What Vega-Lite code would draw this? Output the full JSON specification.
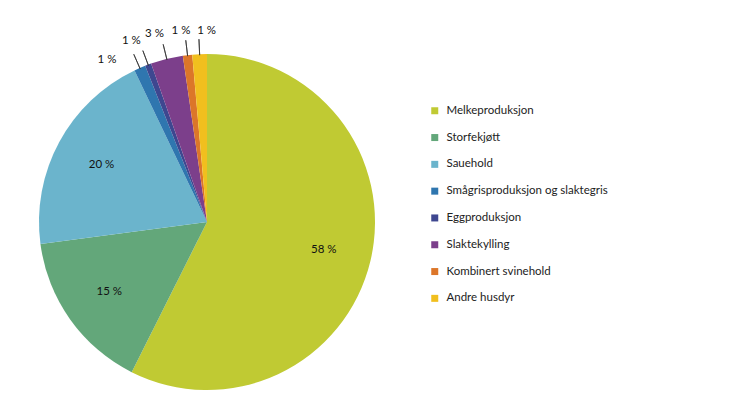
{
  "$schema": "https://vega.github.io/schema/vega-lite/v6.json",
  "width": 414,
  "height": 386,
  "autosize": {"type": "none"},
  "padding": {"left": 0, "top": 29, "right": 316, "bottom": 0},
  "background": "white",
  "data": {
    "values": [
      {"kategori": "Melkeproduksjon", "andel": 57.4, "etikett": "58 %"},
      {"kategori": "Storfekjøtt", "andel": 15.5, "etikett": "15 %"},
      {"kategori": "Sauehold", "andel": 20.0, "etikett": "20 %"},
      {"kategori": "Smågrisproduksjon og slaktegris", "andel": 1.1, "etikett": "1 %"},
      {"kategori": "Eggproduksjon", "andel": 0.6, "etikett": "1 %"},
      {"kategori": "Slaktekylling", "andel": 3.1, "etikett": "3 %"},
      {"kategori": "Kombinert svinehold", "andel": 0.9, "etikett": "1 %"},
      {"kategori": "Andre husdyr", "andel": 1.4, "etikett": "1 %"}
    ]
  },
  "transform": [
    {"window": [{"op": "row_number", "as": "rekke"}]},
    {"stack": "andel", "groupby": [], "sort": [{"field": "rekke", "order": "ascending"}], "as": ["start", "slutt"]},
    {"calculate": "(datum.start + datum.slutt) / 2", "as": "midt"}
  ],
  "resolve": {"scale": {"theta": "shared"}},
  "layer": [
    {
      "mark": {"type": "arc", "outerRadius": 168},
      "encoding": {
        "theta": {"field": "start", "type": "quantitative", "scale": {"domain": [0, 100]}, "stack": null},
        "theta2": {"field": "slutt"},
        "color": {
          "field": "kategori",
          "type": "nominal",
          "scale": {
            "domain": ["Melkeproduksjon", "Storfekjøtt", "Sauehold", "Smågrisproduksjon og slaktegris", "Eggproduksjon", "Slaktekylling", "Kombinert svinehold", "Andre husdyr"],
            "range": ["#c0ca33", "#63a77a", "#6bb4cc", "#2f76af", "#3e4790", "#7c3f8b", "#dc7629", "#f1bf1e"]
          },
          "legend": {
            "title": null,
            "orient": "none",
            "legendX": 429,
            "legendY": 76,
            "symbolType": "square",
            "symbolSize": 49,
            "symbolStrokeWidth": 0,
            "labelFont": "Lato",
            "labelFontSize": 11.5,
            "labelColor": "#222222",
            "labelOffset": 6,
            "labelLimit": 300,
            "rowPadding": 13.8,
            "padding": 0
          }
        }
      }
    },
    {
      "transform": [{"filter": "datum.andel < 10"}],
      "mark": {"type": "arc", "radius": 167, "radius2": 183, "fill": null, "stroke": "#333333", "strokeWidth": 0.8},
      "encoding": {
        "theta": {"field": "midt", "type": "quantitative", "stack": null},
        "theta2": {"field": "midt"}
      }
    },
    {
      "transform": [{"filter": "datum.andel >= 10"}],
      "mark": {"type": "text", "radius": 120, "font": "Lato", "fontSize": 11.5, "color": "#111111", "align": "center", "baseline": "middle"},
      "encoding": {
        "theta": {"field": "midt", "type": "quantitative", "stack": null},
        "text": {"field": "etikett"}
      }
    },
    {
      "transform": [{"filter": "datum.kategori === 'Smågrisproduksjon og slaktegris'"}],
      "mark": {"type": "text", "radius": 190, "dx": -24, "dy": 12, "font": "Lato", "fontSize": 11.5, "color": "#111111", "align": "center", "baseline": "middle"},
      "encoding": {
        "theta": {"field": "midt", "type": "quantitative", "stack": null},
        "text": {"field": "etikett"}
      }
    },
    {
      "transform": [{"filter": "datum.kategori === 'Eggproduksjon'"}],
      "mark": {"type": "text", "radius": 190, "dx": -9, "dy": -3, "font": "Lato", "fontSize": 11.5, "color": "#111111", "align": "center", "baseline": "middle"},
      "encoding": {
        "theta": {"field": "midt", "type": "quantitative", "stack": null},
        "text": {"field": "etikett"}
      }
    },
    {
      "transform": [{"filter": "datum.kategori === 'Slaktekylling'"}],
      "mark": {"type": "text", "radius": 190, "dx": -7, "dy": -4, "font": "Lato", "fontSize": 11.5, "color": "#111111", "align": "center", "baseline": "middle"},
      "encoding": {
        "theta": {"field": "midt", "type": "quantitative", "stack": null},
        "text": {"field": "etikett"}
      }
    },
    {
      "transform": [{"filter": "datum.kategori === 'Kombinert svinehold'"}],
      "mark": {"type": "text", "radius": 190, "dx": -4, "dy": -2, "font": "Lato", "fontSize": 11.5, "color": "#111111", "align": "center", "baseline": "middle"},
      "encoding": {
        "theta": {"field": "midt", "type": "quantitative", "stack": null},
        "text": {"field": "etikett"}
      }
    },
    {
      "transform": [{"filter": "datum.kategori === 'Andre husdyr'"}],
      "mark": {"type": "text", "radius": 190, "dx": 8, "dy": -1, "font": "Lato", "fontSize": 11.5, "color": "#111111", "align": "center", "baseline": "middle"},
      "encoding": {
        "theta": {"field": "midt", "type": "quantitative", "stack": null},
        "text": {"field": "etikett"}
      }
    }
  ],
  "config": {"view": {"stroke": null}}
}
